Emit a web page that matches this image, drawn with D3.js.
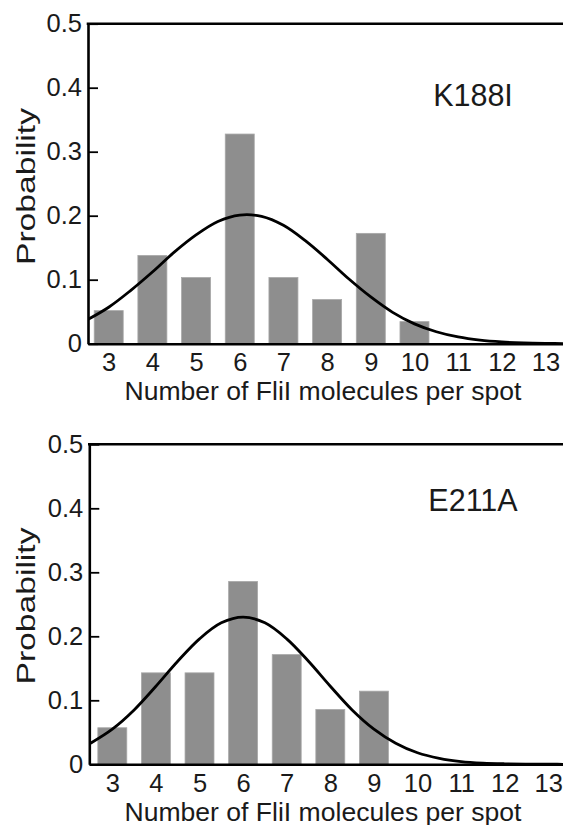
<!DOCTYPE html>
<html>
<head>
<meta charset="utf-8">
<script src="https://cdn.jsdelivr.net/npm/d3@7"></script>
<style>
  html, body { margin: 0; padding: 0; background: #fff; }
  svg { display: block; }
  text { font-family: "Liberation Sans", Arial, sans-serif; fill: #1a1a1a; }
</style>
</head>
<body>
<svg id="chart" width="563" height="825"></svg>
<script>
// ---- data ----
const categoriesTop = [3, 4, 5, 6, 7, 8, 9, 10];
const probTop = [0.0517, 0.1379, 0.1034, 0.3276, 0.1034, 0.0690, 0.1724, 0.0345];
const categoriesBottom = [3, 4, 5, 6, 7, 8, 9];
const probBottom = [0.0571, 0.1429, 0.1429, 0.2857, 0.1714, 0.0857, 0.1143];
const xTicks = [3, 4, 5, 6, 7, 8, 9, 10, 11, 12, 13];
const yTicks = [0, 0.1, 0.2, 0.3, 0.4, 0.5];
const fitX = [2.5, 3, 3.5, 4, 4.5, 5, 5.5, 6, 6.5, 7, 7.5, 8, 8.5, 9, 9.5, 10, 10.5, 11, 11.5, 12, 12.5, 13, 13.5];
const fitTop = [0.037, 0.057, 0.083, 0.112, 0.143, 0.170, 0.191, 0.201, 0.199, 0.185, 0.161, 0.132, 0.101, 0.073, 0.049, 0.031, 0.0187, 0.0105, 0.0055, 0.0027, 0.0012, 0.0005, 0.0002];
const fitBottom = [0.033, 0.055, 0.085, 0.122, 0.161, 0.196, 0.221, 0.230, 0.221, 0.196, 0.161, 0.122, 0.085, 0.055, 0.033, 0.018, 0.0093, 0.0043, 0.0019, 0.0008, 0.0003, 0.0001, 0.0];
const labelTop = "K188I";
const labelBottom = "E211A";
const xTitle = "Number of FliI molecules per spot";
const yTitle = "Probability";

// ---- layout ----
const W = 563;
const panels = [
  { cats: categoriesTop, vals: probTop, fit: fitTop, label: labelTop,
    left: 88, top: 23.7, bottom: 343.7, xDomain: [2.526, 13.40],
    labelY: 106, titleY: 400, yTitleY: 186.5 },
  { cats: categoriesBottom, vals: probBottom, fit: fitBottom, label: labelBottom,
    left: 89.3, top: 444.3, bottom: 764.3, xDomain: [2.472, 13.337],
    labelY: 510.7, titleY: 821, yTitleY: 606 }
];

const svg = d3.select("#chart");
svg.append("rect").attr("width", W).attr("height", 825).attr("fill", "#fff");

panels.forEach((p, i) => {
  const x = d3.scaleLinear().domain(p.xDomain).range([p.left, W]);
  const y = d3.scaleLinear().domain([0, 0.5]).range([p.bottom, p.top]);
  const g = svg.append("g");

  const clipId = "clip" + i;
  svg.append("clipPath").attr("id", clipId)
    .append("rect").attr("x", p.left).attr("y", p.top - 5)
    .attr("width", W - p.left).attr("height", p.bottom - p.top + 5);

  // bars
  const half = 0.332;
  g.selectAll("rect.bar").data(p.cats.map((c, k) => ({ c, v: p.vals[k] })))
    .join("rect").attr("class", "bar")
    .attr("x", d => x(d.c - half))
    .attr("width", d => x(d.c + half) - x(d.c - half))
    .attr("y", d => y(d.v))
    .attr("height", d => y(0) - y(d.v))
    .attr("fill", "#8e8e8e")
    .attr("stroke", "#a8a8a8").attr("stroke-width", 0.8);

  // fitted curve
  const line = d3.line().x(d => x(d[0])).y(d => y(d[1])).curve(d3.curveCatmullRom);
  g.append("path").datum(fitX.map((xv, k) => [xv, p.fit[k]]))
    .attr("clip-path", `url(#${clipId})`)
    .attr("d", line).attr("fill", "none").attr("stroke", "#000").attr("stroke-width", 2.8);

  // y axis
  const yAxis = d3.axisLeft(y).tickValues(yTicks)
    .tickFormat(d => d === 0 ? "0" : d3.format(".1f")(d))
    .tickSizeInner(-10).tickSizeOuter(0).tickPadding(6);
  const ya = g.append("g").attr("transform", `translate(${p.left},0)`).call(yAxis);
  ya.select(".domain").attr("stroke", "#000").attr("stroke-width", 2.6);
  ya.selectAll(".tick line").attr("stroke", "#000").attr("stroke-width", 1.8);
  ya.selectAll(".tick text").attr("font-size", 25.5).attr("fill", "#1a1a1a")
    .style("font-family", "'Liberation Sans', Arial, sans-serif");

  // x axis
  const xAxis = d3.axisBottom(x).tickValues(xTicks).tickFormat(d3.format("d"))
    .tickSize(0).tickPadding(9.5);
  const xa = g.append("g").attr("transform", `translate(0,${p.bottom})`).call(xAxis);
  xa.select(".domain").attr("stroke", "#000").attr("stroke-width", 2.6);
  xa.selectAll(".tick text").attr("font-size", 25.5).attr("fill", "#1a1a1a")
    .style("font-family", "'Liberation Sans', Arial, sans-serif");

  // top border
  g.append("line").attr("x1", p.left - 1.3).attr("x2", W)
    .attr("y1", y(0.5)).attr("y2", y(0.5))
    .attr("stroke", "#000").attr("stroke-width", 2.4);

  // panel label
  g.append("text").attr("x", 473).attr("y", p.labelY)
    .attr("text-anchor", "middle").attr("font-size", 30.5).text(p.label);

  // x title
  g.append("text").attr("x", 323).attr("y", p.titleY)
    .attr("text-anchor", "middle").attr("font-size", 25.5)
    .attr("textLength", 397).attr("lengthAdjust", "spacingAndGlyphs")
    .text(xTitle);

  // y title
  g.append("text")
    .attr("transform", `translate(35,${p.yTitleY}) rotate(-90)`)
    .attr("text-anchor", "middle").attr("font-size", 26.5)
    .attr("textLength", 157).attr("lengthAdjust", "spacingAndGlyphs")
    .text(yTitle);
});
</script>
</body>
</html>
